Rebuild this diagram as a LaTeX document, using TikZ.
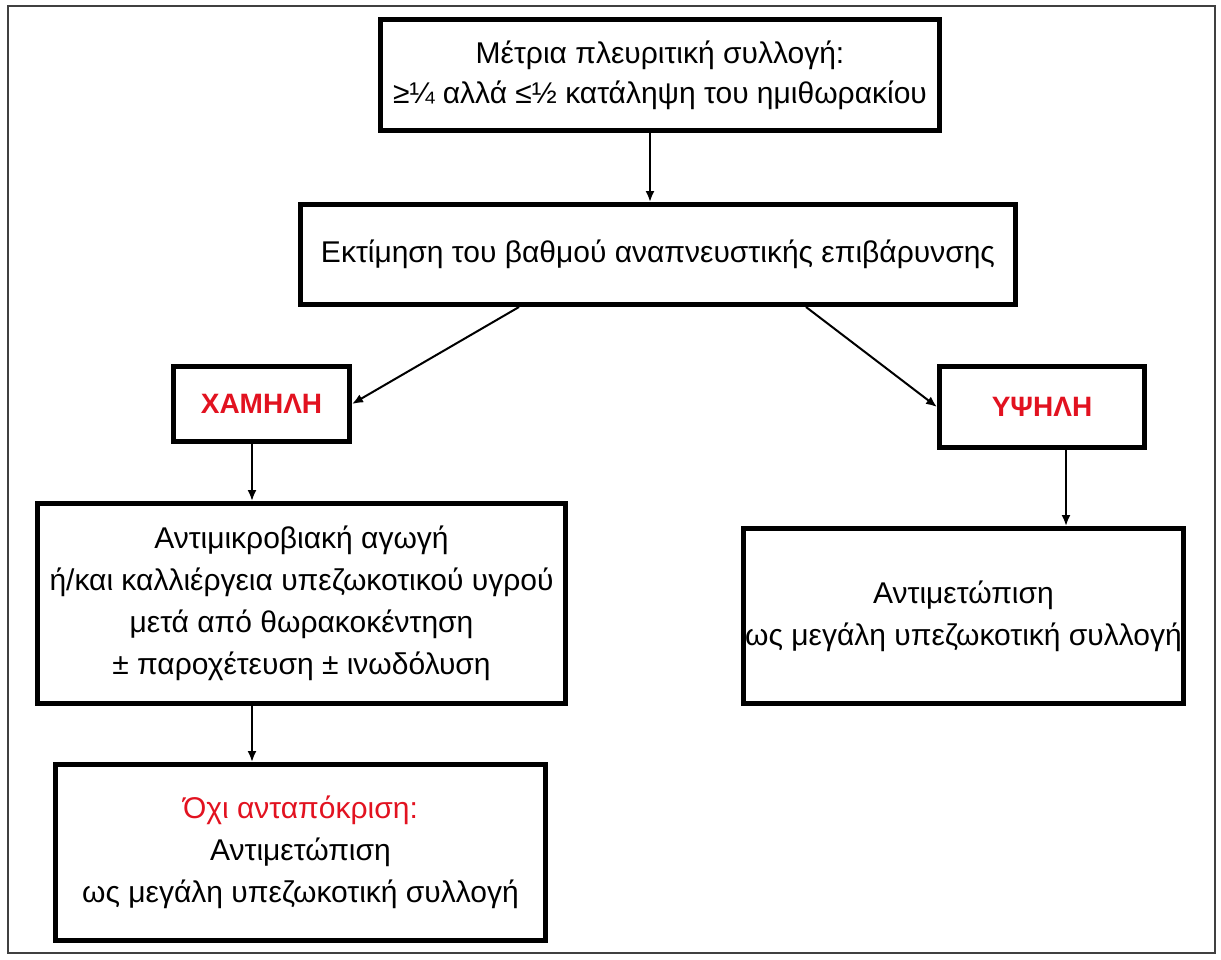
\documentclass[tikz,border=0pt]{standalone}
\usepackage{fontspec}
\setmainfont{Liberation Sans}
\usepackage{tikz}
\usetikzlibrary{arrows.meta}
\definecolor{alertred}{RGB}{226,18,32}

\begin{document}
\begin{tikzpicture}[x=0.5pt,y=-0.5pt,
  blok/.style={draw=black,line width=2.5pt,fill=white,inner sep=0pt,align=center,
    font=\fontsize{15}{21}\selectfont},
  tag/.style={blok,text=alertred,font=\fontsize{14}{18}\selectfont\bfseries},
  link/.style={line width=1pt,-{Latex[length=5.5pt,width=4.5pt]}}]
      \useasboundingbox (0,0) rectangle (1221,959);
      \draw[line width=0.8pt,draw=black!75] (8,6) rectangle (1215,953);

      \node[blok,minimum width=279.5pt,minimum height=55.5pt] (top) at (660,75)
        {Μέτρια πλευριτική συλλογή:\\[-1pt] ≥¼ αλλά ≤½ κατάληψη του ημιθωρακίου};
      \node[blok,minimum width=357.5pt,minimum height=50pt] (sec) at (658,254.5)
        {Εκτίμηση του βαθμού αναπνευστικής επιβάρυνσης};
      \node[tag,minimum width=88pt,minimum height=37.5pt] (low) at (261.5,404) {ΧΑΜΗΛΗ};
      \node[tag,minimum width=102.5pt,minimum height=40.5pt] (high) at (1042,407) {ΥΨΗΛΗ};
      \node[blok,minimum width=264pt,minimum height=100pt] (left) at (301.5,603.5)
        {Αντιμικροβιακή αγωγή\\ ή/και καλλιέργεια υπεζωκοτικού υγρού\\
         μετά από θωρακοκέντηση\\ ± παροχέτευση ± ινωδόλυση};
      \node[blok,minimum width=220pt,minimum height=87.5pt] (right) at (963.5,616)
        {Αντιμετώπιση\\ ως μεγάλη υπεζωκοτική συλλογή};
      \node[blok,minimum width=245pt,minimum height=88pt] (last) at (300.5,852.5)
        {\textcolor{alertred}{Όχι ανταπόκριση:}\\ Αντιμετώπιση\\ ως μεγάλη υπεζωκοτική συλλογή};

      \draw[link] ([xshift=-5pt]top.south) -- ([xshift=-5pt]top.south |- sec.north);
      \draw[link] ([xshift=110.5pt]sec.south west) -- (low.east);
      \draw[link] ([xshift=-106pt]sec.south east) -- (high.west);
      \draw[link] ([xshift=-4.75pt]low.south) -- ([xshift=-4.75pt]low.south |- left.north);
      \draw[link] ([xshift=12pt]high.south) -- ([xshift=12pt]high.south |- right.north);
      \draw[link] ([xshift=-24.75pt]left.south) -- ([xshift=-24.75pt]left.south |- last.north);
\end{tikzpicture}
\end{document}
